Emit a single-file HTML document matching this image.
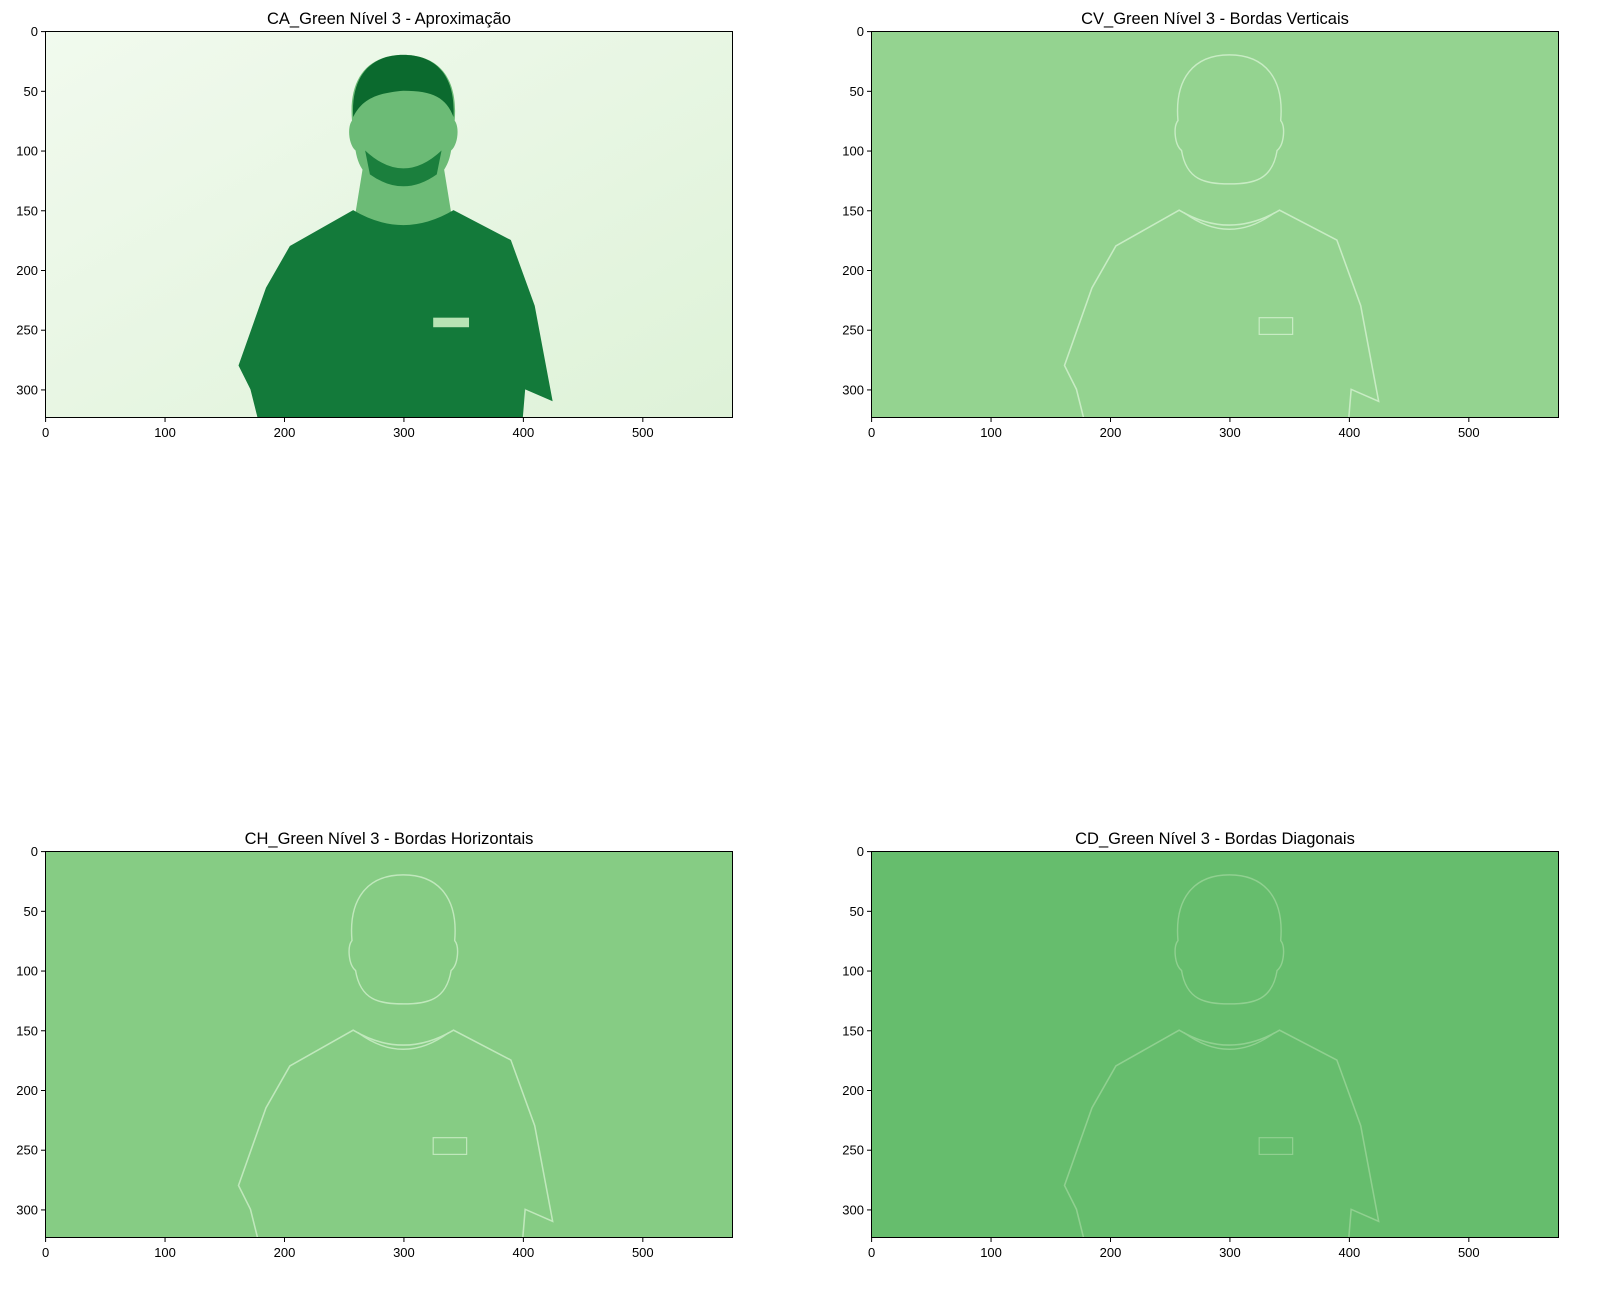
<!DOCTYPE html>
<html><head><meta charset="utf-8"><style>
body{margin:0;background:#fff;}
svg text{font-family:"Liberation Sans","DejaVu Sans",sans-serif;}
</style></head><body>
<svg id="fig" width="1606" height="1302" viewBox="0 0 1606 1302" xmlns="http://www.w3.org/2000/svg">
<defs>
<linearGradient id="bgA" x1="0" y1="0" x2="1" y2="1"><stop offset="0" stop-color="#f1faee"/><stop offset="1" stop-color="#def2d8"/></linearGradient>
</defs>
</svg>
<script>
const xTicks=[0,100,200,300,400,500];
const yTicks=[0,50,100,150,200,250,300];
const imgW=576, imgH=324;
const titles=["CA_Green Nível 3 - Aproximação","CV_Green Nível 3 - Bordas Verticais","CH_Green Nível 3 - Bordas Horizontais","CD_Green Nível 3 - Bordas Diagonais"];
const fills=["url(#bgA)","#94d390","#86cc84","#66bd6d"];
const panelNames=["approximation","vertical-edges","horizontal-edges","diagonal-edges"];
const origins=[[45,31],[871,31],[45,851],[871,851]];
const NS="http://www.w3.org/2000/svg";
const svg=document.getElementById('fig');
const W=688,H=387, s=W/imgW;
function el(t,a,p){const e=document.createElementNS(NS,t);for(const k in a)e.setAttribute(k,a[k]);(p||svg).appendChild(e);return e;}
const shirt="M178 324 L172 300 L162 280 L185 215 L205 180 L258 150 Q300 175 342 150 L390 175 L410 230 L425 310 L402 300 L400 324 Z";
const head="M300 20 C330 20 346 40 343 75 C347 80 346 95 340 100 C336 125 320 128 300 128 C280 128 264 125 260 100 C254 95 253 80 257 75 C254 40 270 20 300 20 Z";
const neck="M266 115 L334 115 L340 152 Q300 175 260 152 Z";
for(let i=0;i<4;i++){
  const [ox,oy]=origins[i];
  const g=el('g',{});
  
  
  const clip=el('clipPath',{id:'c'+i},g);el('rect',{x:ox,y:oy,width:W,height:H},clip);
  const img=el('g',{'clip-path':'url(#c'+i+')'},g);
  
  
  el('rect',{x:ox,y:oy,width:W,height:H,fill:fills[i]},img);
  const p=el('g',{transform:`translate(${ox},${oy}) scale(${s})`},img);
  if(i===0){
    el('path',{d:neck,fill:'#6cbb76'},p);
    el('path',{d:shirt,fill:'#137a3a'},p);
    el('path',{d:head,fill:'#6cbb76'},p);
    el('path',{d:"M258 72 C256 35 275 20 300 20 C325 20 344 35 342 72 C336 56 325 50 300 50 C276 52 265 58 258 72 Z",fill:'#0b6a2e'},p);
    el('path',{d:"M268 100 Q300 130 332 100 L328 120 Q300 140 272 120 Z",fill:'#1b7f3d'},p);
    el('rect',{x:325,y:240,width:30,height:8,fill:'#b8e3b4'},p);
  } else {
    const st={1:'#c8ecc4',2:'#c0e8bc',3:'#90d090'}[i];
    el('path',{d:shirt,fill:'none',stroke:st,'stroke-width':1.3},p);
    el('path',{d:head,fill:'none',stroke:st,'stroke-width':1.2},p);
    el('path',{d:"M262 152 Q300 180 338 152",fill:'none',stroke:st,'stroke-width':1.2},p);
    el('rect',{x:325,y:240,width:28,height:14,fill:'none',stroke:st,'stroke-width':1},p);
  }
  el('rect',{x:ox+0.5,y:oy+0.5,width:W-1,height:H-1,fill:'none',stroke:'#000','stroke-width':1},g);
  const t=el('text',{x:ox+W/2,y:oy-7,'text-anchor':'middle','font-size':16.5,fill:'#000'},g);t.textContent=titles[i];
  
  
  xTicks.forEach(v=>{const x=ox+(v+0.5)*s;
    el('line',{x1:x,y1:oy+H,x2:x,y2:oy+H+4,stroke:'#000'},g);
    const tx=el('text',{x:x,y:oy+H+19,'text-anchor':'middle','font-size':13},g);tx.textContent=v;
    
    });
  yTicks.forEach(v=>{const y=oy+(v+0.5)*s;
    el('line',{x1:ox-4,y1:y,x2:ox,y2:y,stroke:'#000'},g);
    const ty=el('text',{x:ox-7,y:y+4.5,'text-anchor':'end','font-size':13},g);ty.textContent=v;
    
    });
}
</script>
</body></html>
